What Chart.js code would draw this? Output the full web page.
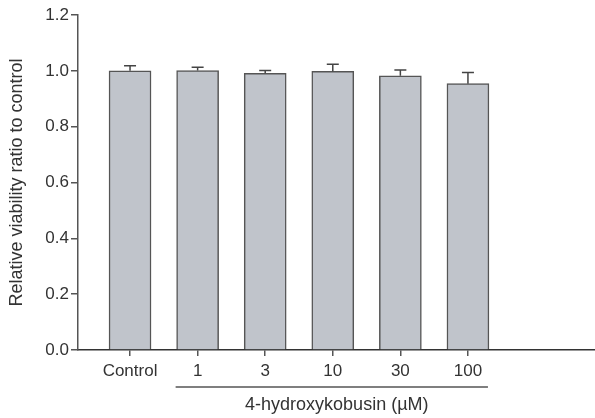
<!DOCTYPE html>
<html>
<head>
<meta charset="utf-8">
<script src="https://cdn.jsdelivr.net/npm/chart.js@4/dist/chart.umd.min.js"></script>
<style>
  html, body { margin: 0; padding: 0; background: #fff; }
  #wrap { width: 595px; height: 418px; position: relative; }
</style>
</head>
<body>
<div id="wrap"><canvas id="viabilityChart"></canvas></div>
<script>
// データ
const categories = ['Control', '1', '3', '10', '30', '100'];
const viability = [1.0, 1.001, 0.991, 0.998, 0.982, 0.954];
const sem = [0.018, 0.012, 0.010, 0.026, 0.021, 0.040];
const yTicks = [0, 0.2, 0.4, 0.6, 0.8, 1.0, 1.2];
const groupLabel = '4-hydroxykobusin (µM)';

const FONT = '"Liberation Sans", Arial, sans-serif';
const INK = '#333';

// エラーバー（上側のみ）
const errorBars = {
    id: 'errorBars',
    afterDatasetsDraw(chart) {
        const { ctx, scales: { x, y } } = chart;
        ctx.save();
        ctx.strokeStyle = '#444';
        ctx.lineWidth = 1.5;
        viability.forEach((v, i) => {
            const px = x.getPixelForValue(i);
            const top = y.getPixelForValue(v + sem[i]);
            const base = y.getPixelForValue(v);
            ctx.beginPath();
            ctx.moveTo(px, base);
            ctx.lineTo(px, top);
            ctx.moveTo(px - 6, top);
            ctx.lineTo(px + 6, top);
            ctx.stroke();
        });
        ctx.restore();
    }
};

// 濃度グループの下線とラベル
const groupBracket = {
    id: 'groupBracket',
    afterDraw(chart) {
        const { ctx, scales: { x } } = chart;
        const x1 = x.getPixelForValue(1) - 22;
        const x2 = x.getPixelForValue(5) + 20;
        const yLine = 387;
        ctx.save();
        ctx.strokeStyle = '#555';
        ctx.lineWidth = 1.5;
        ctx.beginPath();
        ctx.moveTo(x1, yLine);
        ctx.lineTo(x2, yLine);
        ctx.stroke();
        ctx.fillStyle = INK;
        ctx.font = '18px ' + FONT;
        ctx.textAlign = 'center';
        ctx.textBaseline = 'middle';
        ctx.fillText(groupLabel, (x1 + x2) / 2 + 5, 405);
        ctx.restore();
    }
};

document.addEventListener('DOMContentLoaded', function () {
    const ctx = document.getElementById('viabilityChart');
    new Chart(ctx, {
        type: 'bar',
        data: {
            datasets: [{
                data: viability.map((v, i) => ({ x: i, y: v })),
                backgroundColor: '#c0c4cb',
                borderColor: '#555',
                borderWidth: 1.5,
                borderSkipped: 'bottom',
                barThickness: 42
            }]
        },
        options: {
            responsive: true,
            maintainAspectRatio: false,
            animation: false,
            layout: { padding: { top: 15, right: 0, left: 0, bottom: 0 } },
            scales: {
                x: {
                    type: 'linear',
                    offset: false,
                    min: -0.77,
                    max: 6.88,
                    afterBuildTicks(scale) {
                        scale.ticks = categories.map((c, i) => ({ value: i }));
                    },
                    afterFit(scale) { scale.height = 68; },
                    ticks: {
                        autoSkip: false,
                        maxRotation: 0,
                        padding: 5,
                        color: INK,
                        font: { family: FONT, size: 17 },
                        callback: (v) => categories[v] ?? ''
                    },
                    grid: { offset: false, drawOnChartArea: false, drawTicks: true, tickLength: 6, color: '#555', lineWidth: 1.5 },
                    border: { display: true, color: '#333', width: 1.5 }
                },
                y: {
                    min: 0,
                    max: 1.2,
                    afterBuildTicks(scale) {
                        scale.ticks = yTicks.map(v => ({ value: v }));
                    },
                    afterFit(scale) { scale.width = 78; },
                    ticks: {
                        padding: 2,
                        color: INK,
                        font: { family: FONT, size: 17 },
                        callback: (v) => v.toFixed(1)
                    },
                    grid: { drawOnChartArea: false, drawTicks: true, tickLength: 7, color: '#555', lineWidth: 1.5 },
                    border: { display: true, color: '#555', width: 1.5 },
                    title: {
                        display: true,
                        text: 'Relative viability ratio to control',
                        color: INK,
                        font: { family: FONT, size: 18 },
                        padding: { top: 6, bottom: 0 }
                    }
                }
            },
            plugins: {
                legend: { display: false },
                tooltip: { enabled: false }
            }
        },
        plugins: [errorBars, groupBracket]
    });
});
</script>
</body>
</html>
